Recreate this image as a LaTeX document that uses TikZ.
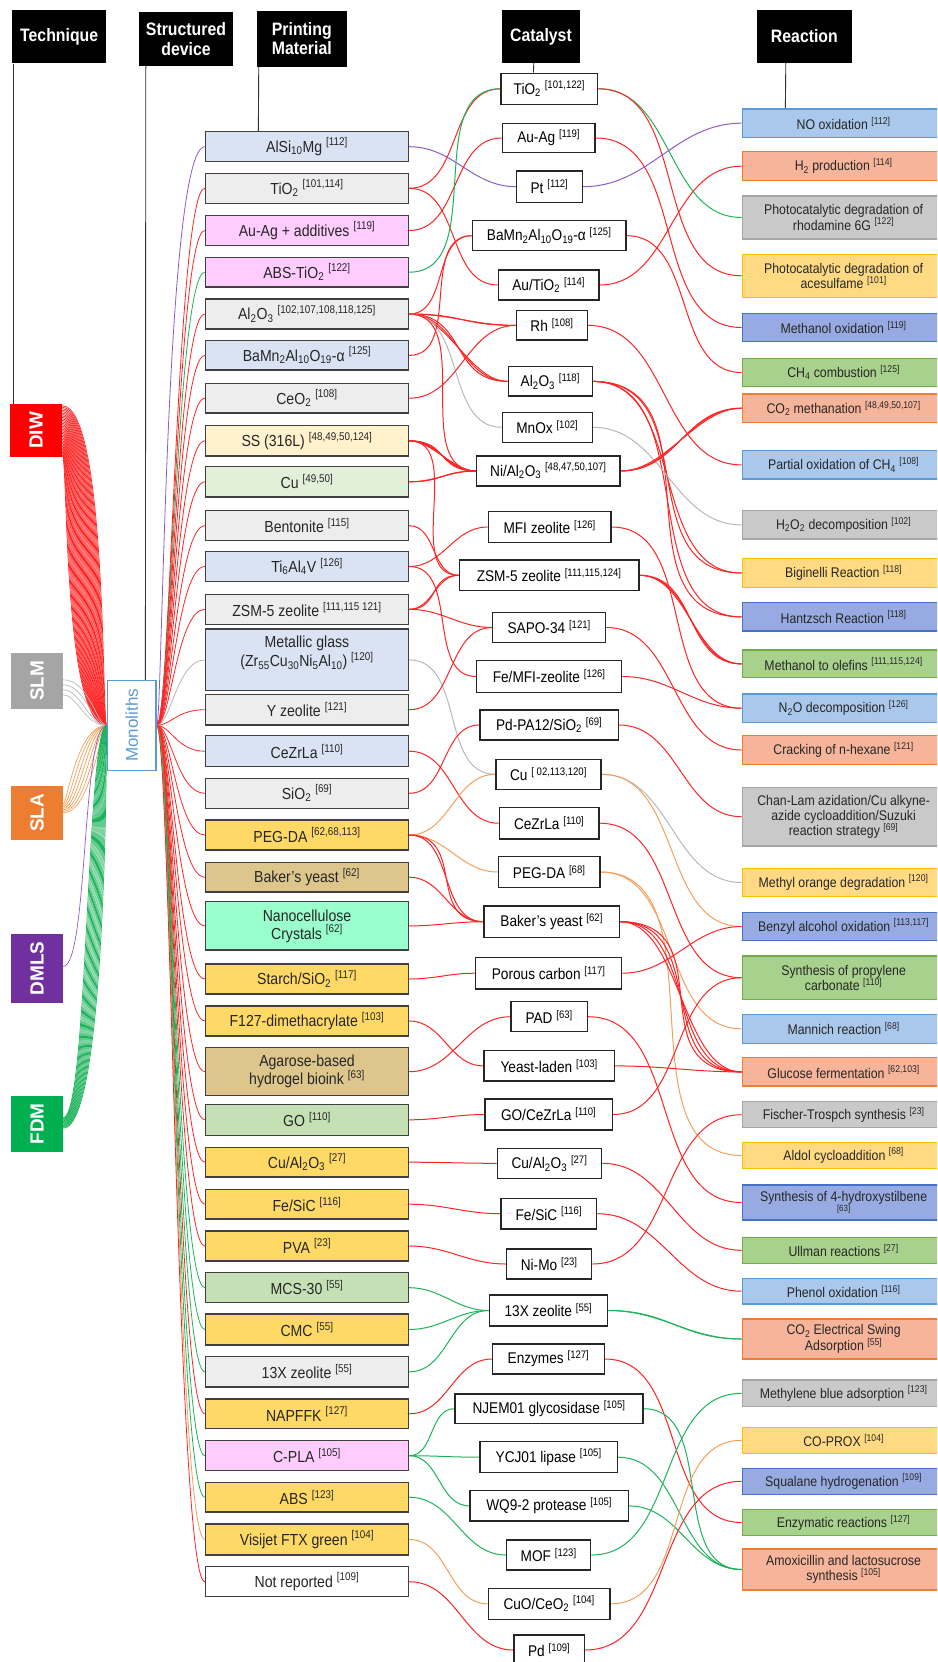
\documentclass[tikz,border=0pt]{standalone}
\usepackage{fontspec}
\setmainfont{Liberation Sans}[FakeStretch=0.88]
\newfontfamily\rotfont{Liberation Sans}
\usetikzlibrary{calc}
\pgfdeclarelayer{bg}
\pgfsetlayers{bg,main}
\definecolor{lnred}{HTML}{FF2424}
\definecolor{lngreen}{HTML}{1DB35A}
\definecolor{lngray}{HTML}{B8B8B8}
\definecolor{lnorange}{HTML}{F5A05A}
\definecolor{lnpurple}{HTML}{8E5CC8}
\definecolor{fLB}{HTML}{DAE3F3}
\definecolor{fGR}{HTML}{EDEDED}
\definecolor{fPK}{HTML}{FFCCFF}
\definecolor{fLY}{HTML}{FFF2CC}
\definecolor{fLG}{HTML}{E2F0D9}
\definecolor{fYE}{HTML}{FFD966}
\definecolor{fTN}{HTML}{DCC68C}
\definecolor{fMT}{HTML}{99FFCC}
\definecolor{fG2}{HTML}{C5E0B4}
\definecolor{matline}{HTML}{404040}
\definecolor{ltbfill}{HTML}{A9C8EC}
\definecolor{ltbline}{HTML}{5B9BD5}
\definecolor{salfill}{HTML}{F6B59A}
\definecolor{salline}{HTML}{ED7D31}
\definecolor{grafill}{HTML}{C9C9C9}
\definecolor{graline}{HTML}{A5A5A5}
\definecolor{yelfill}{HTML}{FFDA83}
\definecolor{yelline}{HTML}{FFC000}
\definecolor{dkbfill}{HTML}{97ABE2}
\definecolor{dkbline}{HTML}{4472C4}
\definecolor{grnfill}{HTML}{A9D18E}
\definecolor{grnline}{HTML}{70AD47}
\definecolor{cDIW}{HTML}{FF0000}
\definecolor{cSLM}{HTML}{A5A5A5}
\definecolor{cSLA}{HTML}{ED7D31}
\definecolor{cDMLS}{HTML}{7030A0}
\definecolor{cFDM}{HTML}{00B050}
\definecolor{monoblue}{HTML}{5B9BD5}
\newcommand\rfx[1]{\kern0.25em\textsuperscript{[#1]}}
\newcommand\sbx[1]{\textsubscript{#1}}
\newcommand\matn[5]{\node[mat, fill=#4, minimum height=#3pt] (#1) at (307,#2) {#5};}
\newcommand\catn[6]{\node[cat, minimum width=#3pt, minimum height=#5pt] (#1) at (#2,#4) {#6};}
\newcommand\reacn[5]{\node[reac=#4, minimum height=#3pt] (#1) at (843.6,#2) {#5};}
\newcommand\lnk[4][1]{\draw[ln,#2] (#3.east) to[out=0,in=180,looseness=#1] (#4.west);}
\newcommand\fan[2]{\draw[fanln,#1] (mono.east) .. controls +(14,0) and +(-28,0) .. (#2.west);}
\begin{document}
\begin{tikzpicture}[x=1pt,y=-1pt,
  hdr/.style={fill=black, text=white, font=\fontsize{18}{19.5}\selectfont\bfseries, align=center, inner sep=0pt},
  tech/.style={fill=#1, text=white, minimum width=52pt, inner sep=0pt, font=\rotfont\bfseries\fontsize{19}{19}\selectfont},
  mat/.style={draw=matline, line width=1.3pt, minimum width=203pt, inner sep=0pt, font=\fontsize{16}{18}\selectfont, align=center, text=black!85},
  cat/.style={draw=black!85, fill=white, line width=1.3pt, inner sep=0pt, font=\fontsize{15.5}{17}\selectfont, align=center},
  reac/.style={draw=#1line, fill=#1fill, line width=1.2pt, minimum width=202.7pt, inner sep=0pt, font=\fontsize{14}{15.3}\selectfont, align=center, text=black!85},
  ln/.style={line width=1pt},
  fanln/.style={line width=0.8pt},
  tfan/.style={line width=0.7pt},
  vl/.style={line width=0.9pt, black!80}]
\useasboundingbox (0,0) rectangle (937,1662);
\clip (0,0) rectangle (937,1662);
% headers
\node[hdr, minimum width=94.4pt, minimum height=53.3pt] (hT) at (59.2,36.7) {Technique};
\node[hdr, minimum width=94pt, minimum height=53.4pt] (hS) at (186,39) {Structured\\device};
\node[hdr, minimum width=89.7pt, minimum height=55.7pt] (hP) at (301.8,38.8) {Printing\\Material};
\node[hdr, minimum width=78pt, minimum height=53pt] (hC) at (541,36.5) {Catalyst};
\node[hdr, minimum width=94.8pt, minimum height=53pt] (hR) at (804.4,36.5) {Reaction};
% techniques
\node[tech=cDIW, minimum height=53pt] (dt) at (36,430.5) {\rotatebox{90}{DIW}};
\node[tech=cSLM, minimum height=55.6pt] (sl) at (37,680.8) {\rotatebox{90}{SLM}};
\node[tech=cSLA, minimum height=53.5pt] (sa) at (37,812.8) {\rotatebox{90}{SLA}};
\node[tech=cDMLS, minimum height=69.4pt] (dm) at (37,968.3) {\rotatebox{90}{DMLS}};
\node[tech=cFDM, minimum height=56pt] (fd) at (37,1124) {\rotatebox{90}{FDM}};
\node[draw=monoblue, line width=1.3pt, fill=white, minimum width=48.7pt, minimum height=89.7pt, inner sep=0pt, text=monoblue, font=\rotfont\fontsize{17}{17}\selectfont] (mono) at (131.7,725.4) {\rotatebox{90}{Monoliths}};
% materials
\matn{m1}{146.7}{30}{fLB}{AlSi\sbx{10}Mg\rfx{112}}
\matn{m2}{188.3}{30}{fGR}{TiO\sbx{2}\rfx{101,114}}
\matn{m3}{230.5}{29.6}{fPK}{Au-Ag + additives\rfx{119}}
\matn{m4}{272.2}{29.7}{fPK}{ABS-TiO\sbx{2}\rfx{122}}
\matn{m5}{314}{30}{fGR}{Al\sbx{2}O\sbx{3}\rfx{102,107,108,118,125}}
\matn{m6}{355.4}{29.3}{fLB}{BaMn\sbx{2}Al\sbx{10}O\sbx{19}-α\rfx{125}}
\matn{m7}{398.2}{29.7}{fGR}{CeO\sbx{2}\rfx{108}}
\matn{m8}{440.8}{30.3}{fLY}{SS (316L)\rfx{48,49,50,124}}
\matn{m9}{481.8}{30.3}{fLG}{Cu\rfx{49,50}}
\matn{m10}{525.7}{30}{fGR}{Bentonite\rfx{115}}
\matn{m11}{566.5}{29.6}{fLB}{Ti\sbx{6}Al\sbx{4}V\rfx{126}}
\matn{m12}{609.3}{30}{fGR}{ZSM-5 zeolite\rfx{111,115 121}}
\matn{m13}{659.9}{61.7}{fLB}{}
\node[font=\fontsize{16}{17.5}\selectfont, align=center, text=black!85] (m13t) at (307,653) {Metallic glass\\(Zr\sbx{55}Cu\sbx{30}Ni\sbx{5}Al\sbx{10})\rfx{120}};
\matn{m14}{709.7}{30.7}{fGR}{Y zeolite\rfx{121}}
\matn{m15}{751.2}{31}{fLB}{CeZrLa\rfx{110}}
\matn{m16}{793.3}{30}{fGR}{SiO\sbx{2}\rfx{69}}
\matn{m17}{835}{30}{fYE}{PEG-DA\rfx{62,68,113}}
\matn{m18}{877.2}{29.7}{fTN}{Baker’s yeast\rfx{62}}
\matn{m19}{925.9}{48.3}{fMT}{Nanocellulose\\Crystals\rfx{62}}
\matn{m20}{979}{30}{fYE}{Starch/SiO\sbx{2}\rfx{117}}
\matn{m21}{1021}{30}{fYE}{F127-dimethacrylate\rfx{103}}
\matn{m22}{1071.7}{48}{fTN}{Agarose-based\\hydrogel bioink\rfx{63}}
\matn{m23}{1119.8}{31}{fG2}{GO\rfx{110}}
\matn{m24}{1162.2}{29.7}{fYE}{Cu/Al\sbx{2}O\sbx{3}\rfx{27}}
\matn{m25}{1204.2}{29.7}{fYE}{Fe/SiC\rfx{116}}
\matn{m26}{1246}{30}{fYE}{PVA\rfx{23}}
\matn{m27}{1287.7}{30}{fG2}{MCS-30\rfx{55}}
\matn{m28}{1329.5}{31}{fYE}{CMC\rfx{55}}
\matn{m29}{1371.8}{30.3}{fGR}{13X zeolite\rfx{55}}
\matn{m30}{1413.8}{29.7}{fYE}{NAPFFK\rfx{127}}
\matn{m31}{1455.7}{30}{fPK}{C-PLA\rfx{105}}
\matn{m32}{1497.2}{29.7}{fYE}{ABS\rfx{123}}
\matn{m33}{1539.5}{31}{fYE}{Visijet FTX green\rfx{104}}
\matn{m34}{1581.7}{30}{white}{Not reported\rfx{109}}
% catalysts
\catn{c1}{549.4}{96.7}{88.8}{31}{TiO\sbx{2}\rfx{101,122}}
\catn{c2}{548.7}{92.7}{138}{29.4}{Au-Ag\rfx{119}}
\catn{c3}{549.5}{65.6}{186.7}{31.3}{Pt\rfx{112}}
\catn{c4}{549.2}{153.7}{235.7}{30}{BaMn\sbx{2}Al\sbx{10}O\sbx{19}-α\rfx{125}}
\catn{c5}{548.7}{100.7}{285}{30}{Au/TiO\sbx{2}\rfx{114}}
\catn{c6}{552}{70.6}{325.4}{29.3}{Rh\rfx{108}}
\catn{c7}{550.3}{84}{381.4}{29.3}{Al\sbx{2}O\sbx{3}\rfx{118}}
\catn{c8}{547.3}{90}{427.3}{30}{MnOx\rfx{102}}
\catn{c9}{548.4}{143.3}{471}{30}{Ni/Al\sbx{2}O\sbx{3}\rfx{48,47,50,107}}
\catn{c10}{549.7}{122.7}{527}{30.6}{MFI zeolite\rfx{126}}
\catn{c11}{549.2}{179.7}{575.3}{30.7}{ZSM-5 zeolite\rfx{111,115,124}}
\catn{c12}{549.2}{113}{627.5}{30.4}{SAPO-34\rfx{121}}
\catn{c13}{549.2}{145}{676.5}{31.6}{Fe/MFI-zeolite\rfx{126}}
\catn{c14}{549.2}{138.3}{725}{30}{Pd-PA12/SiO\sbx{2}\rfx{69}}
\catn{c15}{548.5}{105}{774.3}{30}{Cu\rfx{ 02,113,120}}
\catn{c16}{549.2}{99.7}{823.2}{31.7}{CeZrLa\rfx{110}}
\catn{c17}{549.2}{101.7}{872}{30.6}{PEG-DA\rfx{68}}
\catn{c18}{551.7}{135.3}{921.7}{31.3}{Baker’s yeast\rfx{62}}
\catn{c19}{548.7}{146}{973.2}{31.7}{Porous carbon\rfx{117}}
\catn{c20}{549.2}{76.3}{1016.7}{30}{PAD\rfx{63}}
\catn{c21}{549.2}{130.3}{1065.9}{30.3}{Yeast-laden\rfx{103}}
\catn{c22}{548.7}{127.3}{1114.5}{31}{GO/CeZrLa\rfx{110}}
\catn{c23}{549.5}{104.4}{1163.3}{30}{Cu/Al\sbx{2}O\sbx{3}\rfx{27}}
\catn{c24}{548.9}{95.7}{1213.7}{30.7}{Fe/SiC\rfx{116}}
\catn{c25}{549.2}{85}{1264}{30}{Ni-Mo\rfx{23}}
\catn{c26}{548.5}{118.4}{1310.5}{31}{13X zeolite\rfx{55}}
\catn{c27}{548.5}{111.6}{1359}{30}{Enzymes\rfx{127}}
\catn{c28}{549}{188}{1408.7}{29.3}{NJEM01 glycosidase\rfx{105}}
\catn{c29}{548.7}{137.3}{1457.2}{31}{YCJ01 lipase\rfx{105}}
\catn{c30}{549.2}{158.3}{1505.9}{30.3}{WQ9-2 protease\rfx{105}}
\catn{c31}{548.7}{84}{1555}{30}{MOF\rfx{123}}
\catn{c32}{549.2}{121.7}{1603.8}{31}{CuO/CeO\sbx{2}\rfx{104}}
\catn{c33}{549.2}{70.3}{1650}{30}{Pd\rfx{109}}
% reactions
\reacn{r1}{123.2}{28.3}{ltb}{NO oxidation\rfx{112}}
\reacn{r2}{166.2}{29}{sal}{H\sbx{2} production\rfx{114}}
\reacn{r3}{217.5}{43}{gra}{Photocatalytic degradation of\\rhodamine 6G\rfx{122}}
\reacn{r4}{275.8}{43}{yel}{Photocatalytic degradation of\\acesulfame\rfx{101}}
\reacn{r5}{327.5}{28.4}{dkb}{Methanol oxidation\rfx{119}}
\reacn{r6}{372.5}{28.4}{grn}{CH\sbx{4} combustion\rfx{125}}
\reacn{r7}{408.2}{28.3}{sal}{CO\sbx{2} methanation\rfx{48,49,50,107}}
\reacn{r8}{464.9}{28.3}{ltb}{Partial oxidation of CH\sbx{4}\rfx{108}}
\reacn{r9}{524.9}{28.3}{gra}{H\sbx{2}O\sbx{2} decomposition\rfx{102}}
\reacn{r10}{573}{29.4}{yel}{Biginelli Reaction\rfx{118}}
\reacn{r11}{616.9}{28.3}{dkb}{Hantzsch Reaction\rfx{118}}
\reacn{r12}{663.9}{27.7}{grn}{Methanol to olefins\rfx{111,115,124}}
\reacn{r13}{708.2}{28.3}{ltb}{N\sbx{2}O decomposition\rfx{126}}
\reacn{r14}{750}{28.6}{sal}{Cracking of n-hexane\rfx{121}}
\reacn{r15}{816.7}{58.7}{gra}{Chan-Lam azidation/Cu alkyne-\\azide cycloaddition/Suzuki\\reaction strategy\rfx{69}}
\reacn{r16}{882.5}{28.4}{yel}{Methyl orange degradation\rfx{120}}
\reacn{r17}{926.5}{28.4}{dkb}{Benzyl alcohol oxidation\rfx{113,117}}
\reacn{r18}{977.7}{43.3}{grn}{Synthesis of propylene\\carbonate\rfx{110}}
\reacn{r19}{1028.8}{29}{ltb}{Mannich reaction\rfx{68}}
\reacn{r20}{1071.9}{28.3}{sal}{Glucose fermentation\rfx{62,103}}
\reacn{r21}{1114.7}{26}{gra}{Fischer-Trospch synthesis\rfx{23}}
\reacn{r22}{1155.5}{25.6}{yel}{Aldol cycloaddition\rfx{68}}
\reacn{r23}{1202.5}{35}{dkb}{Synthesis of 4-hydroxystilbene\\[-5pt]{\fontsize{9}{9}\selectfont[63]}}
\reacn{r24}{1250.3}{26}{grn}{Ullman reactions\rfx{27}}
\reacn{r25}{1291.2}{25.7}{ltb}{Phenol oxidation\rfx{116}}
\reacn{r26}{1339}{40}{sal}{CO\sbx{2} Electrical Swing\\Adsorption\rfx{55}}
\reacn{r27}{1393.3}{26.7}{gra}{Methylene blue adsorption\rfx{123}}
\reacn{r28}{1440.3}{26}{yel}{CO-PROX\rfx{104}}
\reacn{r29}{1481.3}{26}{dkb}{Squalane hydrogenation\rfx{109}}
\reacn{r30}{1522.5}{26.4}{grn}{Enzymatic reactions\rfx{127}}
\reacn{r31}{1569.5}{41}{sal}{Amoxicillin and lactosucrose\\synthesis\rfx{105}}
\begin{pgfonlayer}{bg}
% header lines
\draw[vl] ([xshift=2pt]hT.south west) -- ([xshift=4pt]dt.north west);
\draw[vl] ([xshift=7pt]hS.south west) -- ([xshift=38.7pt]mono.north west);
\draw[vl] ([xshift=2pt]hP.south west) -- ([xshift=53.5pt]m1.north west);
\draw[vl] ([xshift=32pt]hC.south west) -- ([xshift=33pt]c1.north west);
\draw[vl] ([xshift=29pt]hR.south west) -- ([xshift=43.7pt]r1.north west);
% technique fans
\foreach \i in {0,...,34} \draw[tfan,lnred] ($(dt.north east)+(0,2+1.45*\i)$) .. controls +(45-1.15*\i,0) and +(-5-1.15*\i,0) .. (mono.west);
\foreach \i in {0,...,3} \draw[tfan,lngray] ($(sl.north east)+(0,27+5*\i)$) .. controls +(26-4*\i,0) and +(-10-4*\i,0) .. (mono.west);
\foreach \i in {0,...,6} \draw[tfan,lnorange] ($(sa.north east)+(0,18+1.5*\i)$) .. controls +(4+4*\i,0) and +(-30+4*\i,0) .. (mono.west);
\draw[tfan,lnpurple] ($(dm.north east)+(0,33)$) .. controls +(25,0) and +(-25,0) .. (mono.west);
\foreach \i in {0,...,13} \draw[tfan,lngreen] ($(fd.north east)+(0,22+0.8*\i)$) .. controls +(25+1.5*\i,0) and +(-20+1.5*\i,0) .. (mono.west);
% monolith fans
\draw[fanln,lnpurple] (mono.east) .. controls +(6,0) and +(-40,0) .. (m1.west);
\fan{lnred}{m2}
\fan{lnred}{m3}
\fan{lngreen}{m4}
\fan{lnred}{m5}
\fan{lnred}{m6}
\fan{lnred}{m7}
\fan{lnred}{m8}
\fan{lnred}{m9}
\fan{lnred}{m10}
\fan{lnred}{m11}
\fan{lnred}{m12}
\fan{lngray}{m13}
\fan{lnred}{m14}
\fan{lnred}{m15}
\fan{lnred}{m16}
\fan{lnred}{m17}
\fan{lnred}{m18}
\fan{lnred}{m19}
\fan{lnred}{m20}
\fan{lnred}{m21}
\fan{lnred}{m22}
\fan{lnred}{m23}
\fan{lnred}{m24}
\fan{lnred}{m25}
\fan{lnred}{m26}
\fan{lngreen}{m27}
\fan{lngreen}{m28}
\fan{lngreen}{m29}
\fan{lnred}{m30}
\fan{lngreen}{m31}
\fan{lngreen}{m32}
\fan{lnorange}{m33}
\fan{lnred}{m34}
% material -> catalyst
\lnk{lnpurple}{m1}{c3}
\lnk{lnred}{m2}{c1}
\lnk{lnred}{m2}{c5}
\lnk{lnred}{m3}{c2}
\lnk{lngreen}{m4}{c1}
\lnk{lnred}{m5}{c4}
\lnk{lnred}{m5}{c6}
\lnk[1.3]{lnred}{m5}{c6}
\lnk[0.8]{lnred}{m5}{c7}
\lnk{lnred}{m5}{c7}
\lnk[1.25]{lnred}{m5}{c7}
\lnk{lngray}{m5}{c8}
\lnk{lnred}{m5}{c9}
\lnk{lnred}{m6}{c4}
\lnk{lnred}{m7}{c6}
\lnk[0.8]{lnred}{m8}{c9}
\lnk{lnred}{m8}{c9}
\lnk[1.2]{lnred}{m8}{c9}
\lnk[1.4]{lnred}{m8}{c9}
\lnk{lnred}{m8}{c11}
\lnk{lnred}{m9}{c9}
\lnk[1.3]{lnred}{m9}{c9}
\lnk{lnred}{m10}{c11}
\lnk{lnred}{m11}{c10}
\lnk{lnred}{m11}{c13}
\lnk{lnred}{m12}{c11}
\lnk[1.3]{lnred}{m12}{c11}
\lnk{lnred}{m12}{c12}
\lnk{lngray}{m13}{c15}
\lnk{lnred}{m14}{c12}
\lnk{lnred}{m15}{c16}
\lnk{lnred}{m16}{c14}
\lnk{lnorange}{m17}{c15}
\lnk{lnorange}{m17}{c17}
\lnk{lnred}{m17}{c18}
\lnk[1.3]{lnred}{m17}{c18}
\lnk{lnred}{m18}{c18}
\lnk{lnred}{m19}{c18}
\lnk{lnred}{m20}{c19}
\lnk{lnred}{m21}{c21}
\lnk{lnred}{m22}{c20}
\lnk{lnred}{m23}{c22}
\lnk{lnred}{m24}{c23}
\lnk{lnred}{m25}{c24}
\lnk{lnred}{m26}{c25}
\lnk{lngreen}{m27}{c26}
\lnk{lngreen}{m28}{c26}
\lnk{lngreen}{m29}{c26}
\lnk{lnred}{m30}{c27}
\lnk{lngreen}{m31}{c28}
\lnk{lngreen}{m31}{c29}
\lnk{lngreen}{m31}{c30}
\lnk{lngreen}{m32}{c31}
\lnk{lnorange}{m33}{c32}
\lnk{lnred}{m34}{c33}
% catalyst -> reaction
\lnk{lngreen}{c1}{r3}
\lnk{lnred}{c1}{r4}
\lnk{lnred}{c2}{r5}
\lnk{lnpurple}{c3}{r1}
\lnk{lnred}{c4}{r6}
\lnk{lnred}{c5}{r2}
\lnk{lnred}{c6}{r8}
\lnk{lnred}{c7}{r10}
\lnk[1.2]{lnred}{c7}{r10}
\lnk{lnred}{c7}{r11}
\lnk[1.2]{lnred}{c7}{r11}
\lnk{lngray}{c8}{r9}
\lnk[0.85]{lnred}{c9}{r7}
\lnk{lnred}{c9}{r7}
\lnk[1.1]{lnred}{c9}{r7}
\lnk{lnred}{c10}{r13}
\lnk[0.9]{lnred}{c11}{r12}
\lnk{lnred}{c11}{r12}
\lnk[1.1]{lnred}{c11}{r12}
\lnk{lnred}{c12}{r14}
\lnk{lnred}{c13}{r13}
\lnk{lnred}{c14}{r15}
\lnk{lngray}{c15}{r16}
\lnk{lnorange}{c15}{r17}
\lnk{lnred}{c16}{r18}
\lnk{lnorange}{c17}{r19}
\lnk{lnorange}{c17}{r22}
\lnk[0.8]{lnred}{c18}{r20}
\lnk{lnred}{c18}{r20}
\lnk[1.2]{lnred}{c18}{r20}
\lnk[1.4]{lnred}{c18}{r20}
\lnk{lnred}{c19}{r17}
\lnk{lnred}{c20}{r23}
\lnk{lnred}{c21}{r20}
\lnk{lnred}{c22}{r18}
\lnk{lnred}{c23}{r24}
\lnk{lnred}{c24}{r25}
\lnk{lnred}{c25}{r21}
\lnk{lngreen}{c26}{r26}
\lnk[1.15]{lngreen}{c26}{r26}
\lnk{lnred}{c27}{r30}
\lnk{lngreen}{c28}{r31}
\lnk{lngreen}{c29}{r31}
\lnk{lngreen}{c30}{r31}
\lnk{lngreen}{c31}{r27}
\lnk{lnorange}{c32}{r28}
\lnk{lnred}{c33}{r29}
\end{pgfonlayer}
\end{tikzpicture}
\end{document}
